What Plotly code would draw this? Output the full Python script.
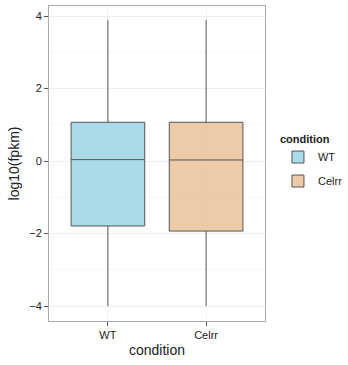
import plotly.graph_objects as go

conditions = ["WT", "Celrr"]
q1 = [-1.79, -1.93]
median = [0.04, 0.03]
q3 = [1.07, 1.07]
lower = [-4.0, -4.0]
upper = [3.89, 3.89]
fills = ["rgba(150,210,228,0.8)", "rgba(232,190,146,0.8)"]

fig = go.Figure()
for i, c in enumerate(conditions):
    fig.add_trace(go.Box(
        x=[c], q1=[q1[i]], median=[median[i]], q3=[q3[i]],
        lowerfence=[lower[i]], upperfence=[upper[i]],
        name=c, legendgroup=c, fillcolor=fills[i],
        line=dict(color="#555555", width=1),
        whiskerwidth=0, width=0.75, boxpoints=False,
    ))

fig.update_layout(
    width=348, height=365,
    margin=dict(l=49, r=83, t=6, b=44, autoexpand=False),
    plot_bgcolor="white", paper_bgcolor="white",
    font=dict(family="Liberation Sans, Arial", size=11, color="#222"),
    legend=dict(title=dict(text="<b>condition</b>", font=dict(size=11)),
                x=1.06, xanchor="left", y=0.612, yanchor="top",
                font=dict(size=11), tracegroupgap=5),
    xaxis=dict(title=dict(text="condition", font=dict(size=14), standoff=4),
               categoryorder="array", categoryarray=conditions,
               range=[-0.6, 1.6], showgrid=True, gridcolor="#f2f2f2",
               showline=True, linecolor="#aaaaaa", mirror=True, linewidth=1,
               ticks="outside", ticklen=4, tickcolor="#555", tickfont=dict(size=11)),
    yaxis=dict(title=dict(text="log10(fpkm)", font=dict(size=14), standoff=6),
               range=[-4.41, 4.276], tickvals=[-4, -2, 0, 2, 4],
               showgrid=True, gridcolor="#eeeeee", zeroline=False,
               minor=dict(tickvals=[-3, -1, 1, 3], showgrid=True, gridcolor="#f7f7f7"),
               showline=True, linecolor="#aaaaaa", mirror=True, linewidth=1,
               ticks="outside", ticklen=4, tickcolor="#555", tickfont=dict(size=11)),
)
fig.write_html("out.html")
